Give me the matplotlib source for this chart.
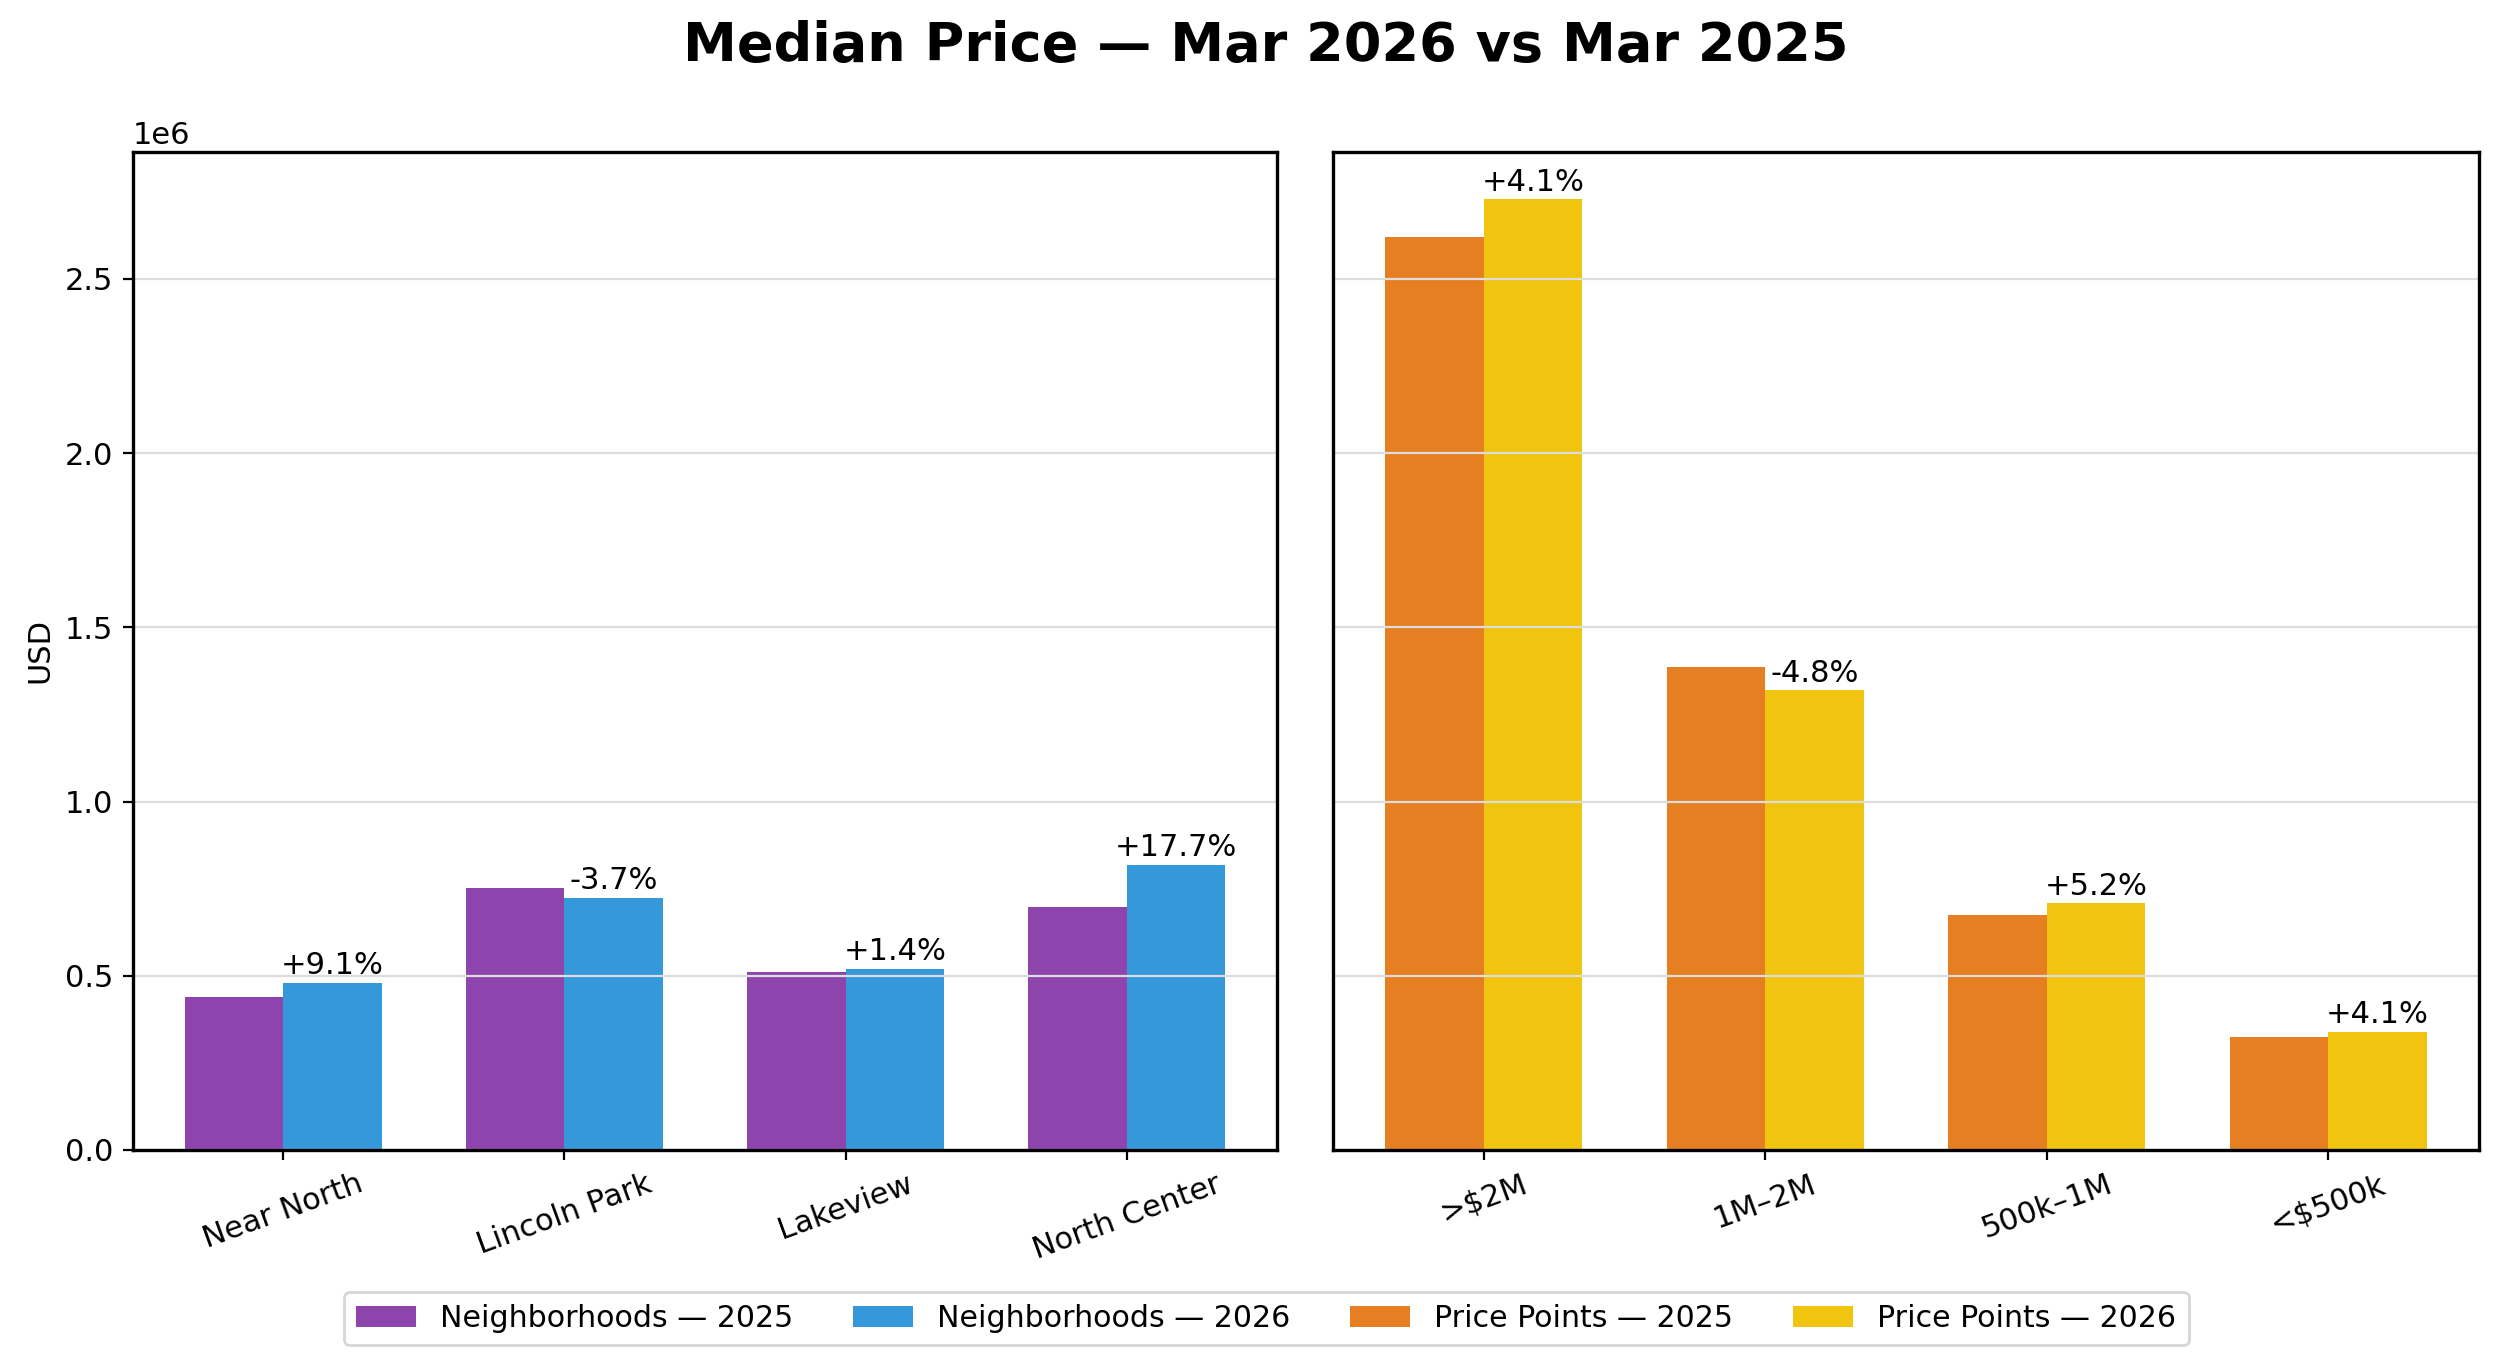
import numpy as np
import matplotlib
matplotlib.use("Agg")
import matplotlib.pyplot as plt

# neighborhood medians (USD)
neighborhoods = ["Near North", "Lincoln Park", "Lakeview", "North Center"]
nb_2025 = [439000, 752000, 512000, 696000]
nb_2026 = [479000, 724000, 519000, 819000]

# price point medians (USD)
price_points = [">$2M", "1M–2M", "500k–1M", "<$500k"]
pp_2025 = [2620000, 1385000, 673000, 325500]
pp_2026 = [2728000, 1319000, 708000, 339000]

colors = {"nb25": "#8E44AD", "nb26": "#3498DB", "pp25": "#E67E22", "pp26": "#F1C40F"}

plt.rcParams["font.size"] = 11

fig = plt.figure(figsize=(12.5, 6.82), dpi=200)
ax1 = fig.add_axes([0.0532, 0.1569, 0.4576, 0.7317])
ax2 = fig.add_axes([0.5332, 0.1569, 0.4584, 0.7317], sharey=ax1)

w = 0.35


def draw(ax, cats, old, new, c_old, c_new, lab_old, lab_new):
    x = np.arange(len(cats))
    ax.bar(x - w / 2, old, w, color=c_old, label=lab_old)
    ax.bar(x + w / 2, new, w, color=c_new, label=lab_new)
    for xi, o, n in zip(x, old, new):
        pct = (n - o) / o * 100
        ax.annotate(f"{pct:+.1f}%", (xi + w / 2, n), xytext=(0, 1),
                    textcoords="offset points", ha="center", va="bottom", fontsize=11)
    ax.set_xticks(x)
    ax.set_xticklabels(cats, rotation=20, ha="center")
    ax.grid(axis="y", color="#dddddd", linewidth=0.8)
    for s in ax.spines.values():
        s.set_linewidth(1.2)


draw(ax1, neighborhoods, nb_2025, nb_2026, colors["nb25"], colors["nb26"],
     "Neighborhoods — 2025", "Neighborhoods — 2026")
draw(ax2, price_points, pp_2025, pp_2026, colors["pp25"], colors["pp26"],
     "Price Points — 2025", "Price Points — 2026")

ax1.set_ylabel("USD")
ax2.tick_params(axis="y", left=False, labelleft=False)

fig.suptitle("Median Price — Mar 2026 vs Mar 2025", fontsize=19.5, fontweight="bold",
             x=0.5065, y=0.985)

h1, l1 = ax1.get_legend_handles_labels()
h2, l2 = ax2.get_legend_handles_labels()
fig.legend(h1 + h2, l1 + l2, loc="lower center", ncol=4, bbox_to_anchor=(0.5065, 0.003),
           fontsize=10.8)

fig.savefig("out.png")
